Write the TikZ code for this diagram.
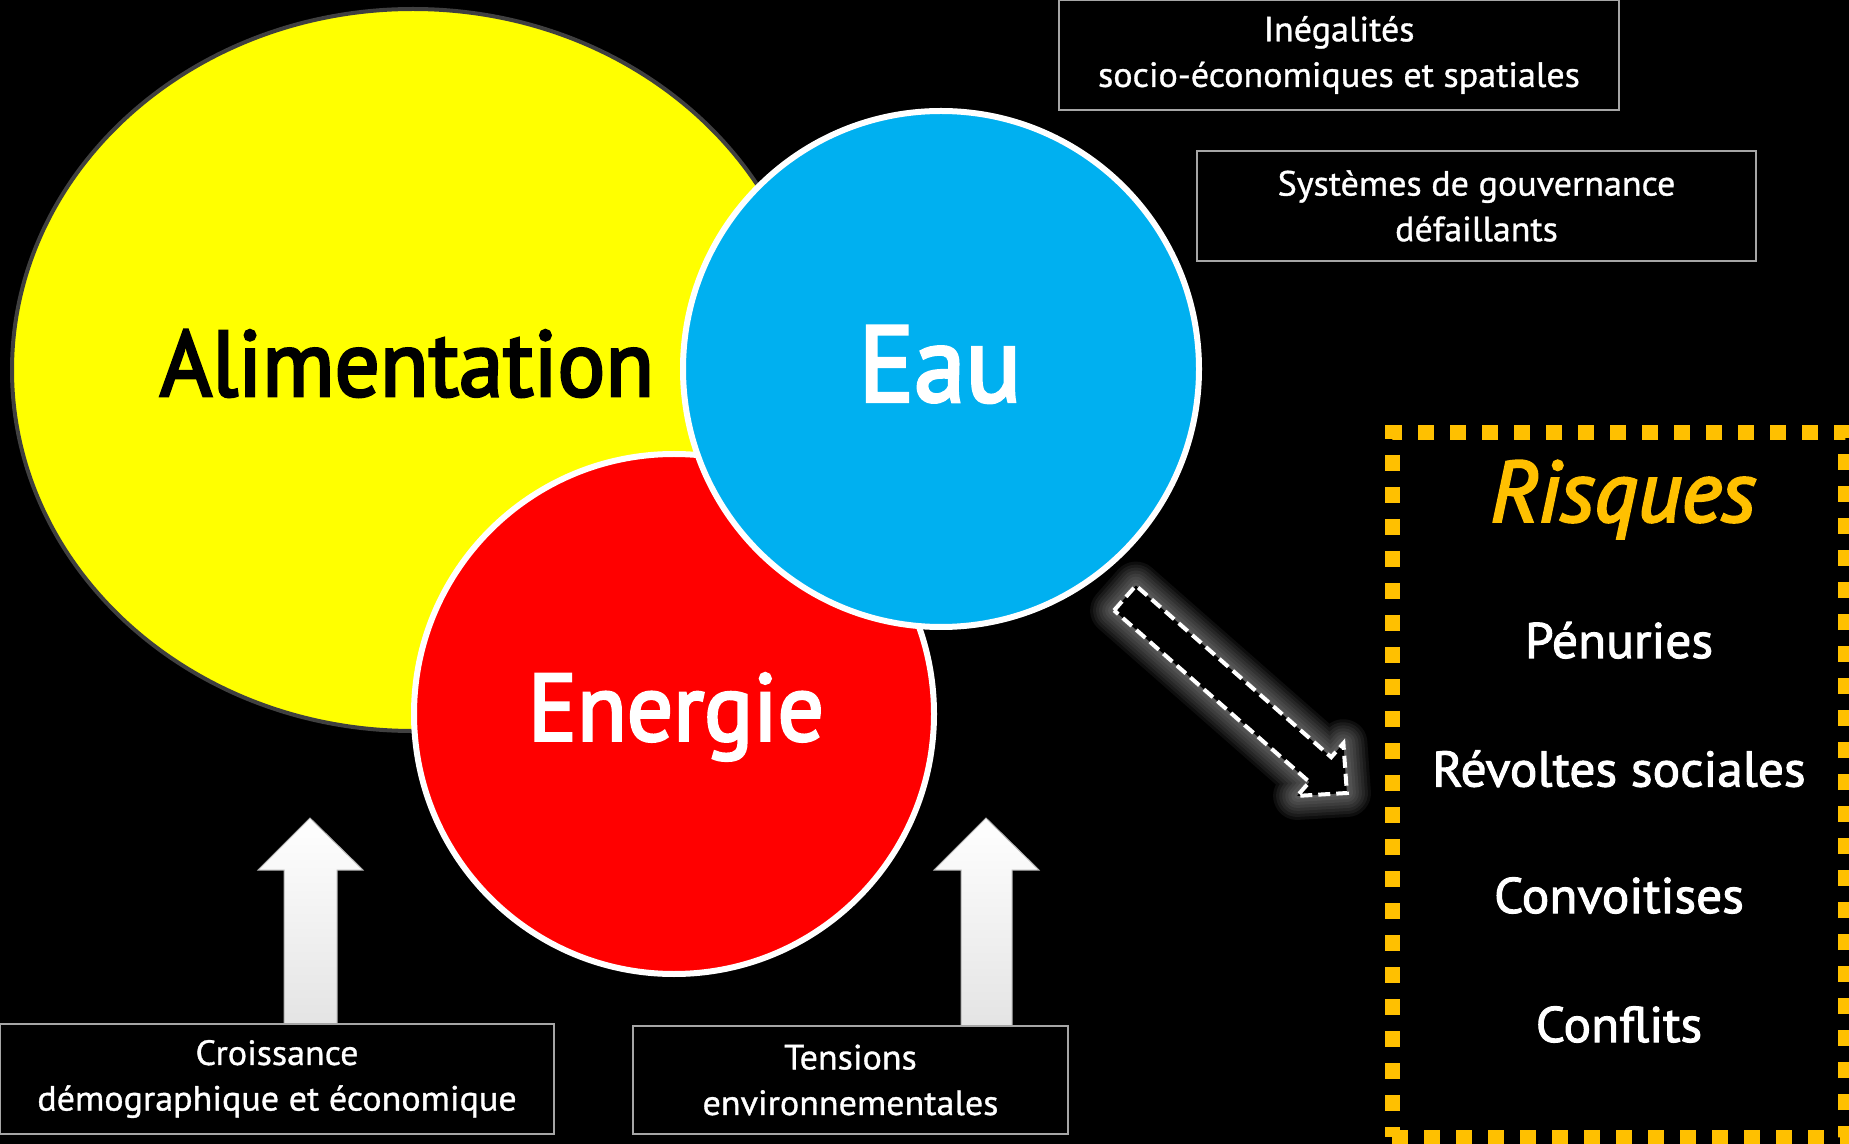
\documentclass[tikz,border=0pt]{standalone}
\usepackage{fontspec}
\setmainfont{PT Sans}
\newfontfamily\boxfont{PT Sans}[FakeStretch=1.03, FakeBold=1]
\newfontfamily\labelfont{PT Sans}[FakeStretch=0.96, FakeBold=3]
\newfontfamily\titlefont{PT Sans}[FakeBold=3]
\newfontfamily\riskfont{PT Sans}[FakeStretch=1.03, FakeBold=2]
\usetikzlibrary{shapes.geometric}
\definecolor{foodyellow}{HTML}{FFFF00}
\definecolor{waterblue}{HTML}{00B0F0}
\definecolor{energyred}{HTML}{FF0000}
\definecolor{riskorange}{HTML}{FFC000}
\definecolor{ringgray}{HTML}{404040}
\definecolor{boxgray}{HTML}{A6A6A6}
\definecolor{arrowgray}{HTML}{E4E4E4}
\begin{document}
\begin{tikzpicture}[x=0.5pt,y=-0.5pt,
  bigcircle/.style={circle, draw=white, line width=3pt, inner sep=0pt},
  infobox/.style={draw=boxgray, line width=0.7pt, fill=black, text=white, align=center, inner sep=0pt, font=\boxfont\fontsize{17.5}{22.8}\selectfont},
  risktext/.style={text=white, anchor=base, inner sep=0pt, font=\riskfont\fontsize{25}{30}\selectfont},
  biglabel/.style={anchor=base, inner sep=0pt},
  blockarrow/.style={top color=white, bottom color=arrowgray, draw=gray!60, line width=0.5pt},
  glowline/.style={draw=white, line join=round, opacity=0.055}
]
\fill[black] (0,0) rectangle (1849,1144);
\useasboundingbox (0,0) rectangle (1849,1144);

% circles
\node (alim) [ellipse, fill=foodyellow, draw=ringgray, line width=2pt, minimum width=401pt, minimum height=361pt, inner sep=0pt] at (413,370) {};
\node (energie) [bigcircle, fill=energyred, minimum size=260pt] at (674,714) {};
\node (eau) [bigcircle, fill=waterblue, minimum size=258pt] at (941,369) {};

\node (alimlbl) [biglabel, text=black, font=\labelfont\fontsize{46.5}{54}\selectfont] at (407,396) {Alimentation};
\node (eaulbl) [biglabel, text=white, font=\labelfont\fontsize{54}{62}\selectfont] at (940,401.5) {Eau};
\node (energielbl) [biglabel, text=white, font=\labelfont\fontsize{47.5}{55}\selectfont] at (676,740.5) {Energie};

% block arrows
\shade[blockarrow] (284,1024) -- (284,870) -- (258,870) -- (310,818) -- (363,870) -- (337,870) -- (337,1024) -- cycle;
\shade[blockarrow] (961,1026) -- (961,870) -- (934,870) -- (986,818) -- (1039,870) -- (1012,870) -- (1012,1026) -- cycle;

% info boxes
\node (ineg) [infobox, minimum width=280pt, minimum height=55pt] at (1339,55) {Inégalités\\socio-économiques et spatiales};
\node (gouv) [infobox, minimum width=279.5pt, minimum height=55pt] at (1476.5,206) {Systèmes de gouvernance\\défaillants};
\node (croiss) [infobox, minimum width=277pt, minimum height=55pt] at (277,1079) {Croissance\\démographique et économique};
\node (tens) [infobox, minimum width=217.5pt, minimum height=54pt] at (850.5,1080) {Tensions\\environnementales};

% dashed arrow with glow
\coordinate (da1) at (1114.1,610.4);
\coordinate (da2) at (1135.9,585.6);
\coordinate (da3) at (1331.2,757.2);
\coordinate (da4) at (1343.4,743.3);
\coordinate (da5) at (1346.9,793.0);
\coordinate (da6) at (1297.2,795.9);
\coordinate (da7) at (1309.4,782.0);
\foreach \w in {24,21,18,15,12,9,6,3}
  \draw[glowline, line width=\w pt] (da1) -- (da2) -- (da3) -- (da4) -- (da5) -- (da6) -- (da7) -- cycle;
\draw[fill=black, draw=white, line width=2pt, dash pattern=on 6pt off 3pt] (da1) -- (da2) -- (da3) -- (da4) -- (da5) -- (da6) -- (da7) -- cycle;

% risks box
\node (riskbox) [draw=riskorange, line width=7.5pt, dash pattern=on 8pt off 8pt, minimum width=226.5pt, minimum height=352pt, inner sep=0pt] at (1618.5,785) {};
\node (risques) [biglabel, text=riskorange, font=\titlefont\itshape\fontsize{43}{50}\selectfont] at (1623,521.5) {Risques};
\node (penur) [risktext] at (1619,658) {Pénuries};
\node (revol) [risktext] at (1619,786.5) {Révoltes sociales};
\node (convo) [risktext] at (1619,913) {Convoitises};
\node (confl) [risktext] at (1619,1042) {Conflits};
\end{tikzpicture}
\end{document}
